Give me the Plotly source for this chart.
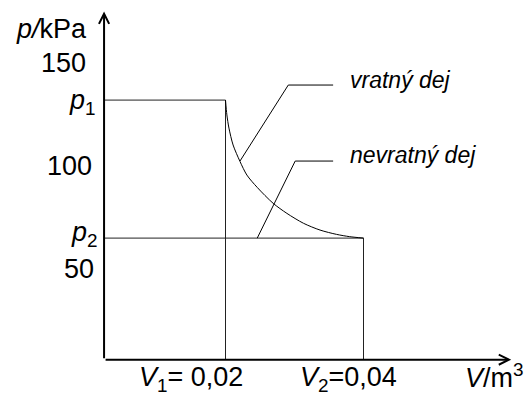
import plotly.graph_objects as go

# ---- data ----
V1, V2 = 0.02, 0.04          # m^3
p1, p2 = 132.0, 65.0         # kPa (schematic levels)
y_ticks = [150, 100, 50]
y_tick_labels = ["150", "100", "50"]

# reversible (isothermal) curve
V_curve = [0.0200, 0.0202, 0.0205, 0.0211, 0.0221, 0.0231, 0.0246,
           0.0269, 0.0289, 0.0313, 0.0337, 0.0361, 0.0380, 0.0400]
p_curve = [132.0, 124.8, 118.4, 110.2, 102.2, 95.6, 89.6,
           81.9, 77.0, 72.2, 68.9, 66.8, 65.7, 65.0]

# axis frame (schematic)
V_axis = [0.0024, 0.0614]
p_axis = [6.0, 175.0]

# leader lines
lead_rev_V = [0.0221, 0.0291, 0.0356]
lead_rev_p = [102.4, 139.3, 139.3]
lead_irr_V = [0.0246, 0.0301, 0.0356]
lead_irr_p = [65.0, 102.4, 102.4]

FONT = "Liberation Sans, Arial, sans-serif"
BLACK = "#000000"

fig = go.Figure()

line_style = dict(color="#222222", width=1)
# rectangles (irreversible process work areas)
fig.add_trace(go.Scatter(x=[V_axis[0], V1, V1], y=[p1, p1, p_axis[0]],
                         mode="lines", line=line_style, hoverinfo="skip"))
fig.add_trace(go.Scatter(x=[V_axis[0], V2, V2], y=[p2, p2, p_axis[0]],
                         mode="lines", line=line_style, hoverinfo="skip"))
# curve
fig.add_trace(go.Scatter(x=V_curve, y=p_curve, mode="lines",
                         line=dict(color=BLACK, width=1, shape="spline", smoothing=0.8),
                         hoverinfo="skip"))
# leaders
fig.add_trace(go.Scatter(x=lead_rev_V, y=lead_rev_p, mode="lines",
                         line=dict(color=BLACK, width=1), hoverinfo="skip"))
fig.add_trace(go.Scatter(x=lead_irr_V, y=lead_irr_p, mode="lines",
                         line=dict(color=BLACK, width=1), hoverinfo="skip"))

ann = []
# axes with arrows
ann.append(dict(x=V_axis[0], y=p_axis[1], ax=V_axis[0], ay=p_axis[0],
                xref="x", yref="y", axref="x", ayref="y", text="",
                showarrow=True, arrowhead=5, arrowwidth=2, arrowsize=1,
                arrowcolor=BLACK))
ann.append(dict(x=V_axis[1], y=p_axis[0], ax=V_axis[0], ay=p_axis[0],
                xref="x", yref="y", axref="x", ayref="y", text="",
                showarrow=True, arrowhead=5, arrowwidth=2, arrowsize=1,
                arrowcolor=BLACK))

f27 = dict(family=FONT, size=27, color=BLACK)
f23 = dict(family=FONT, size=23, color=BLACK)

# y tick labels
shifts = [-16, -10, -8]
for v, t, s in zip(y_ticks, y_tick_labels, shifts):
    ann.append(dict(x=V_axis[0], y=v, xref="x", yref="y", text=t,
                    showarrow=False, xanchor="right", yanchor="middle",
                    xshift=s, font=f27))
ann.append(dict(x=V_axis[0], y=p1, xref="x", yref="y", text="<i>p</i><sub>1</sub>",
                showarrow=False, xanchor="right", yanchor="middle",
                xshift=-6, yshift=-2, font=f27))
ann.append(dict(x=V_axis[0], y=p2, xref="x", yref="y", text="<i>p</i><sub>2</sub>",
                showarrow=False, xanchor="right", yanchor="middle",
                xshift=-4, yshift=4, font=f27))
ann.append(dict(x=V_axis[0], y=p_axis[1], xref="x", yref="y", text="<i>p/</i>kPa",
                showarrow=False, xanchor="right", yanchor="middle",
                xshift=-15, yshift=-18, font=f27))

# x labels
ann.append(dict(x=V1, y=p_axis[0], xref="x", yref="y",
                text="<i>V</i><sub>1</sub>= 0,02",
                showarrow=False, xanchor="left", yanchor="top",
                xshift=-89, yshift=0, font=f27))
ann.append(dict(x=V2, y=p_axis[0], xref="x", yref="y",
                text="<i>V</i><sub>2</sub>=0,04",
                showarrow=False, xanchor="left", yanchor="top",
                xshift=-66, yshift=0, font=f27))
ann.append(dict(x=V_axis[1], y=p_axis[0], xref="x", yref="y",
                text="<i>V</i>/m<sup>3</sup>",
                showarrow=False, xanchor="left", yanchor="top",
                xshift=-48, yshift=3, font=f27))

# leader texts
ann.append(dict(x=lead_rev_V[2], y=lead_rev_p[2], xref="x", yref="y",
                text="<i>vratný dej</i>", showarrow=False,
                xanchor="left", yanchor="middle", xshift=15, yshift=5, font=f23))
ann.append(dict(x=lead_irr_V[2], y=lead_irr_p[2], xref="x", yref="y",
                text="<i>nevratný dej</i>", showarrow=False,
                xanchor="left", yanchor="middle", xshift=15, yshift=6, font=f23))

fig.update_layout(
    width=532, height=394, autosize=False,
    margin=dict(l=0, r=0, t=0, b=0),
    paper_bgcolor="white", plot_bgcolor="white",
    showlegend=False,
    xaxis=dict(visible=False, range=[-0.012681, 0.064420], fixedrange=True),
    yaxis=dict(visible=False, range=[-10.68, 180.58], fixedrange=True),
    annotations=ann,
)

fig.write_html("out.html", config={"displayModeBar": False})
